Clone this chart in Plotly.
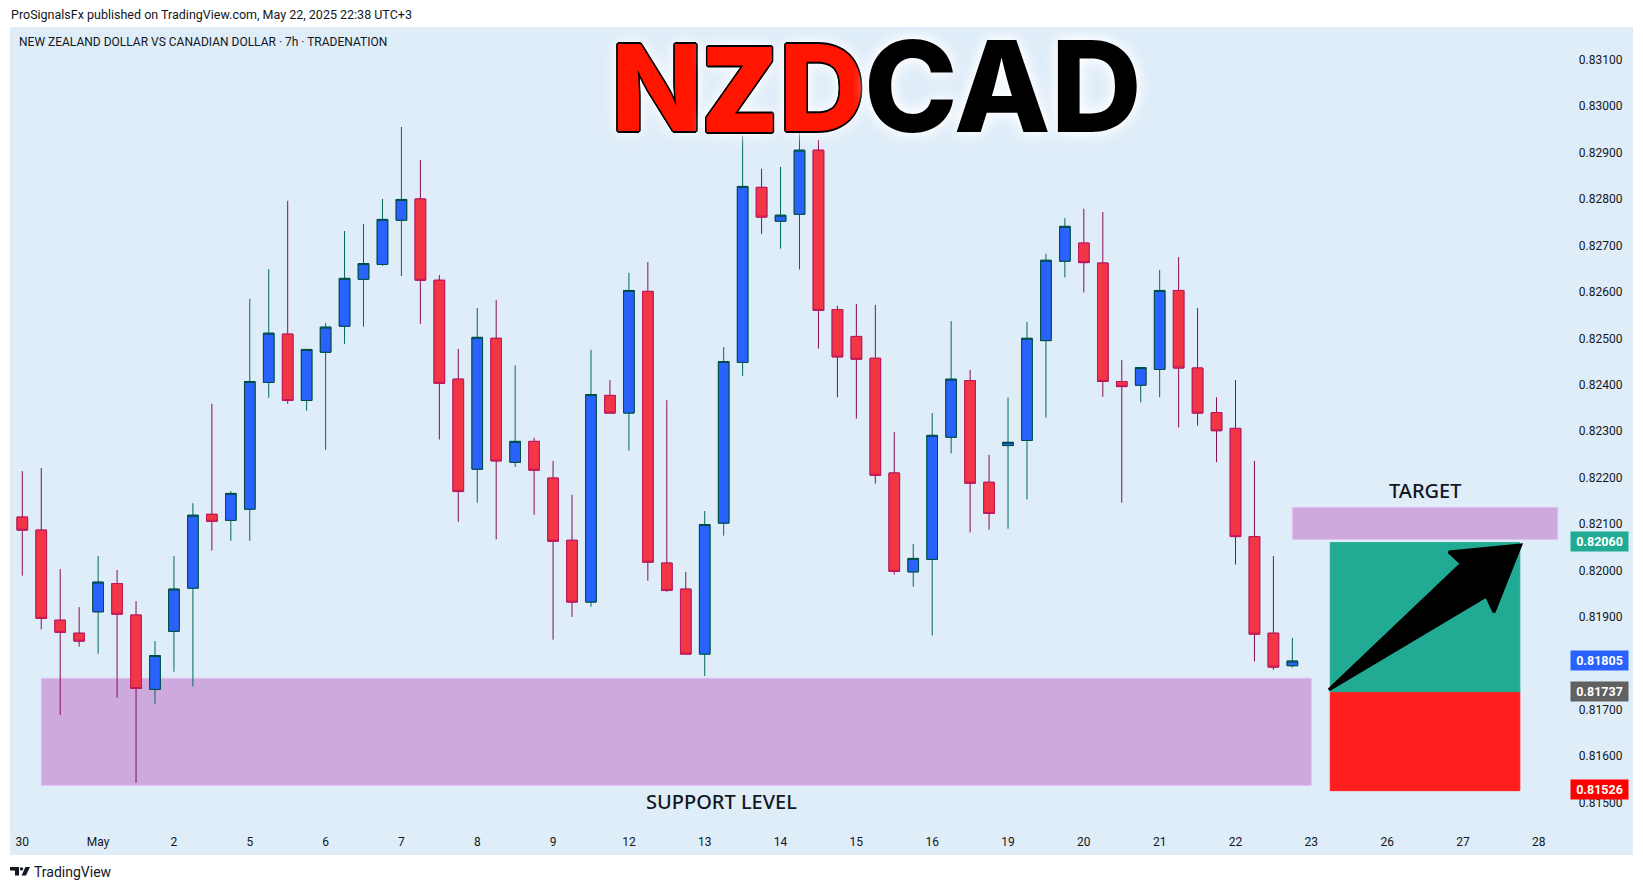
#!/usr/bin/env python
# coding: utf-8
import plotly.graph_objects as go

WIDTH = 1643
HEIGHT = 890
PLOT_LEFT, PLOT_RIGHT, PLOT_TOP, PLOT_BOTTOM = 10, 1633, 27, 855

BG = "#dfedf9"
ZONE = "#cda9de"
ZONE_EDGE = "#e0c4f0"
TEXT = "#131722"
UI_FONT = "Roboto"

# one entry per 7h candle
opens = [
    0.82115, 0.82087, 0.81893, 0.81865, 0.81911, 0.81972, 0.81904, 0.81744, 0.81869, 0.81962,
    0.82121, 0.82108, 0.82132, 0.82405, 0.82509, 0.82366, 0.82470, 0.82526, 0.82627, 0.82659,
    0.82754, 0.82800, 0.82625, 0.82412, 0.82218, 0.82500, 0.82233, 0.82278, 0.82199, 0.82065,
    0.81932, 0.82377, 0.82339, 0.82601, 0.82016, 0.81960, 0.81820, 0.82102, 0.82448, 0.82825,
    0.82752, 0.82767, 0.82905, 0.82562, 0.82504, 0.82457, 0.82210, 0.81997, 0.82024, 0.82287,
    0.82409, 0.82190, 0.82269, 0.82280, 0.82495, 0.82666, 0.82705, 0.82662, 0.82407, 0.82399,
    0.82433, 0.82603, 0.82436, 0.82340, 0.82306, 0.82073, 0.81865, 0.81795,
]
highs = [
    0.82214, 0.82221, 0.82003, 0.81921, 0.82031, 0.82001, 0.81934, 0.81848, 0.82031, 0.82145,
    0.82359, 0.82171, 0.82585, 0.82649, 0.82796, 0.82477, 0.82533, 0.82731, 0.82746, 0.82800,
    0.82955, 0.82884, 0.82636, 0.82477, 0.82565, 0.82582, 0.82442, 0.82286, 0.82236, 0.82163,
    0.82475, 0.82410, 0.82641, 0.82664, 0.82367, 0.81997, 0.82128, 0.82481, 0.82936, 0.82865,
    0.82869, 0.83026, 0.82927, 0.82570, 0.82574, 0.82572, 0.82298, 0.82057, 0.82339, 0.82537,
    0.82432, 0.82249, 0.82372, 0.82535, 0.82682, 0.82759, 0.82779, 0.82772, 0.82453, 0.82437,
    0.82647, 0.82675, 0.82565, 0.82373, 0.82410, 0.82236, 0.82031, 0.81855,
]
lows = [
    0.81989, 0.81873, 0.81689, 0.81836, 0.81821, 0.81726, 0.81543, 0.81713, 0.81782, 0.81750,
    0.82043, 0.82064, 0.82064, 0.82372, 0.82359, 0.82344, 0.82260, 0.82488, 0.82525, 0.82656,
    0.82634, 0.82531, 0.82282, 0.82105, 0.82146, 0.82067, 0.82223, 0.82120, 0.81851, 0.81900,
    0.81922, 0.82339, 0.82258, 0.81978, 0.81954, 0.81820, 0.81773, 0.82075, 0.82419, 0.82725,
    0.82693, 0.82648, 0.82478, 0.82373, 0.82327, 0.82187, 0.81991, 0.81965, 0.81860, 0.82252,
    0.82082, 0.82088, 0.82090, 0.82153, 0.82329, 0.82631, 0.82599, 0.82374, 0.82146, 0.82362,
    0.82373, 0.82308, 0.82312, 0.82233, 0.82013, 0.81804, 0.81786, 0.81791,
]
closes = [
    0.82087, 0.81897, 0.81867, 0.81848, 0.81975, 0.81906, 0.81746, 0.81817, 0.81960, 0.82119,
    0.82106, 0.82166, 0.82407, 0.82511, 0.82366, 0.82476, 0.82524, 0.82629, 0.82661, 0.82756,
    0.82799, 0.82625, 0.82403, 0.82170, 0.82502, 0.82236, 0.82278, 0.82216, 0.82063, 0.81932,
    0.82379, 0.82339, 0.82603, 0.82018, 0.81957, 0.81820, 0.82099, 0.82450, 0.82827, 0.82761,
    0.82765, 0.82905, 0.82560, 0.82460, 0.82455, 0.82205, 0.81998, 0.82026, 0.82291, 0.82412,
    0.82188, 0.82123, 0.82276, 0.82500, 0.82668, 0.82741, 0.82663, 0.82407, 0.82396, 0.82437,
    0.82603, 0.82436, 0.82339, 0.82301, 0.82073, 0.81863, 0.81792, 0.81805,
]

date_ticks = ["30", "May", "2", "5", "6", "7", "8", "9", "12", "13", "14", "15", "16", "19",
              "20", "21", "22", "23", "26", "27", "28"]
price_ticks = [0.815, 0.816, 0.817, 0.818, 0.819, 0.820, 0.821, 0.822, 0.823, 0.824, 0.825,
               0.826, 0.827, 0.828, 0.829, 0.830, 0.831]

support_zone = (0.81537, 0.81768)
target_zone = (0.82067, 0.82136)
long_target, long_entry, long_stop = 0.82060, 0.81737, 0.81526
last_price = 0.81805

arrow_x = [68.92, 75.92, 75.25, 79.05, 77.64, 77.24, 68.92]
arrow_y = [0.81743, 0.82015, 0.82040, 0.82055, 0.81910, 0.81945, 0.81743]

plot_w = PLOT_RIGHT - PLOT_LEFT
plot_h = PLOT_BOTTOM - PLOT_TOP


def px(x):
    return (x - PLOT_LEFT) / plot_w


def py(y):
    return (PLOT_BOTTOM - y) / plot_h


def rect(x0, x1, y0, y1, fill, edge=None):
    return dict(
        type="rect", xref="x", yref="y", x0=x0, x1=x1, y0=y0, y1=y1, layer="below",
        fillcolor=fill, line=dict(color=edge or fill, width=1),
    )


def logo_poly(points):
    path = "M " + " L ".join(f"{px(a):.5f} {py(b):.5f}" for a, b in points) + " Z"
    return dict(type="path", xref="paper", yref="paper", path=path,
                fillcolor=TEXT, line=dict(width=0))


def label(text, x, y, size, color=TEXT, anchor="left", weight=400, family=UI_FONT):
    return dict(
        text=text, xref="paper", yref="paper", x=px(x), y=py(y), xanchor=anchor, yanchor="middle",
        showarrow=False, font=dict(size=size, color=color, family=family, weight=weight),
    )


def price_tag(price, color):
    return dict(
        text=f"<b>{price:.5f}</b>", xref="x", yref="y", x=83.2, y=price, xanchor="center",
        yanchor="middle", showarrow=False, bgcolor=color, width=55, height=17, yshift=1,
        font=dict(size=12.5, color="white", family=UI_FONT),
    )


OUTLINE = ", ".join(f"{a}px {b}px 0 #000" for a, b in
                    [(-1.6, 0), (1.6, 0), (0, -1.6), (0, 1.6), (-1.2, -1.2), (1.2, -1.2), (-1.2, 1.2), (1.2, 1.2)])
GLOW = "0 0 12px #ffffff, 0 0 18px #ffffff"


def title_letter(text, x, y, size, family, color="#ff1500"):
    return dict(
        text=text, xref="paper", yref="paper", x=px(x), y=py(y), xanchor="center", yanchor="middle",
        showarrow=False,
        font=dict(size=size, color=color, family=family, weight=800, shadow=f"{OUTLINE}, {GLOW}"),
    )


x = list(range(len(opens)))
body_tops = [max(o, c) for o, c in zip(opens, closes)]
body_bottoms = [min(o, c) for o, c in zip(opens, closes)]

fig = go.Figure()

# wicks and bodies use different line colours, so bodies go on top as a second trace
fig.add_trace(go.Candlestick(
    x=x, open=opens, high=highs, low=lows, close=closes, whiskerwidth=0,
    increasing=dict(line=dict(color="#00695c", width=1), fillcolor="#2962ff"),
    decreasing=dict(line=dict(color="#880e4f", width=1), fillcolor="#f23645"),
    hoverinfo="skip",
))
fig.add_trace(go.Candlestick(
    x=x, open=opens, high=body_tops, low=body_bottoms, close=closes, whiskerwidth=0,
    increasing=dict(line=dict(color="#004d40", width=1), fillcolor="#2962ff"),
    decreasing=dict(line=dict(color="#c2185b", width=1), fillcolor="#f23645"),
    hoverinfo="skip",
))

fig.add_trace(go.Scatter(
    x=arrow_x, y=arrow_y, mode="lines", fill="toself", fillcolor="#000000",
    line=dict(color="#000000", width=3), hoverinfo="skip",
))

shapes = [
    rect(1, 68, support_zone[0], support_zone[1], ZONE, ZONE_EDGE),
    rect(67, 81, target_zone[0], target_zone[1], ZONE, ZONE_EDGE),
    rect(69, 79, long_entry, long_target, "#22ab94"),
    rect(69, 79, long_stop, long_entry, "#ff1f1f"),
    # TradingView mark under the chart
    logo_poly([(10, 867), (19, 867), (19, 875.5), (15, 875.5), (15, 870.5), (10, 870.5)]),
    logo_poly([(25.5, 867), (30, 867), (26, 875.5), (21.5, 875.5)]),
    dict(type="circle", xref="paper", yref="paper", x0=px(19.8), x1=px(23.2), y0=py(870.6), y1=py(867.2),
         fillcolor=TEXT, line=dict(width=0)),
]

annotations = [
    label("ProSignalsFx published on TradingView.com, May 22, 2025 22:38 UTC+3", 9, 15, 12.5),
    label("NEW ZEALAND DOLLAR VS CANADIAN DOLLAR · 7h · TRADENATION", 17, 42, 12),
    label("SUPPORT LEVEL", 721, 801, 20, anchor="center", weight=500, family="Noto Sans"),
    label("TARGET", 1425, 490, 20, anchor="center", weight=500, family="Noto Sans"),
    label("TradingView", 32, 872, 14),
    title_letter("N", 657, 87, 120, "Inter"),
    title_letter("Z", 739.5, 86, 119, "Open Sans"),
    title_letter("D", 822, 87, 120, "Inter"),
    dict(
        text="CAD", xref="paper", yref="paper", x=px(862), y=py(86), xanchor="left", yanchor="middle",
        showarrow=False,
        font=dict(size=126, color="#000000", family="Inter", weight=800, shadow=GLOW),
    ),
    price_tag(long_target, "#22ab94"),
    price_tag(last_price, "#2962ff"),
    price_tag(long_entry, "#616161"),
    price_tag(long_stop, "#ff0000"),
]

fig.update_layout(
    width=WIDTH,
    height=HEIGHT,
    margin=dict(l=PLOT_LEFT, r=WIDTH - PLOT_RIGHT, t=PLOT_TOP, b=HEIGHT - PLOT_BOTTOM, pad=0),
    paper_bgcolor="white",
    plot_bgcolor=BG,
    showlegend=False,
    boxgap=0.2,
    shapes=shapes,
    annotations=annotations,
    font=dict(family=UI_FONT, size=12, color=TEXT),
)
fig.update_xaxes(
    range=[-0.649, 84.97],
    tickmode="array",
    tickvals=[i * 4 for i in range(len(date_ticks))],
    ticktext=date_ticks,
    showgrid=False,
    zeroline=False,
    showline=False,
    rangeslider_visible=False,
    ticklabelposition="inside",
    ticks="inside",
    ticklen=6,
    tickcolor="rgba(0,0,0,0)",
    tickfont=dict(size=12, color=TEXT),
)
fig.update_yaxes(
    range=[0.813874, 0.831703],
    side="right",
    tickmode="array",
    tickvals=price_ticks,
    ticktext=[f"{p:.5f}" for p in price_ticks],
    showgrid=False,
    zeroline=False,
    showline=False,
    ticklabelposition="inside",
    ticks="inside",
    ticklen=10,
    tickcolor="rgba(0,0,0,0)",
    tickfont=dict(size=12, color=TEXT),
)

fig.write_html(
    "out.html",
    config={"displayModeBar": False},
    post_script="document.body.style.margin='0';document.body.style.overflow='hidden';",
)
